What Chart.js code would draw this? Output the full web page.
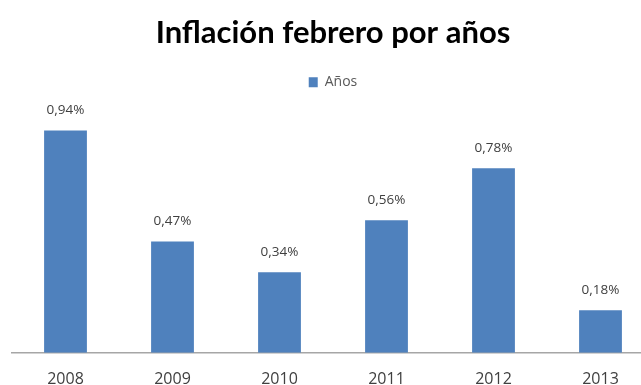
<!DOCTYPE html>
<html><head><meta charset="utf-8">
<script src="https://cdn.jsdelivr.net/npm/chart.js@4.4.1/dist/chart.umd.min.js"></script>
<style>html,body{margin:0;padding:0;background:#fff;overflow:hidden;width:641px;height:385px}#wrap{width:654px;height:406px}</style>
</head><body><div id="wrap"><canvas id="c" width="654" height="406"></canvas></div>
<script>
const categories = ["2008","2009","2010","2011","2012","2013"];
const values = [0.94, 0.47, 0.34, 0.56, 0.78, 0.18];
const labels = ["0,94%","0,47%","0,34%","0,56%","0,78%","0,18%"];
const seriesName = "Años";
const titleText = "Inflación febrero por años";

const dataLabels = {
  id: 'dataLabels',
  afterDatasetsDraw(chart) {
    const ctx = chart.ctx;
    const meta = chart.getDatasetMeta(0);
    ctx.save();
    ctx.font = '13.5px "Open Sans", sans-serif';
    ctx.fillStyle = '#404040';
    ctx.textAlign = 'center';
    ctx.textBaseline = 'middle';
    meta.data.forEach((bar, i) => {
      ctx.fillText(labels[i], bar.x, bar.y - 20);
    });
    ctx.restore();
  }
};

new Chart(document.getElementById('c'), {
  type: 'bar',
  data: {
    labels: categories,
    datasets: [{
      label: seriesName,
      data: values,
      backgroundColor: '#4f81bd',
      borderWidth: 0,
      categoryPercentage: 1,
      barPercentage: 0.4
    }]
  },
  options: {
    responsive: false,
    animation: false,
    layout: { padding: { left: 12, right: 0, top: 0, bottom: 0 } },
    plugins: {
      title: {
        display: true,
        text: titleText,
        color: '#000',
        font: { family: 'Lato', size: 31, weight: 'bold' },
        padding: { top: 14, bottom: 14 }
      },
      legend: {
        display: true,
        labels: {
          color: '#595959',
          font: { family: '"Open Sans"', size: 14 },
          boxWidth: 9,
          boxHeight: 10,
          padding: 10
        }
      },
      tooltip: { enabled: false }
    },
    scales: {
      x: {
        grid: { display: false, drawTicks: false },
        border: { display: true, color: '#a6a6a6', width: 1.5 },
        ticks: { color: '#404040', font: { family: '"Open Sans"', size: 16 }, padding: 17 }
      },
      y: {
        display: false,
        min: 0,
        max: 1.072
      }
    }
  },
  plugins: [dataLabels]
});
</script>
</body></html>
